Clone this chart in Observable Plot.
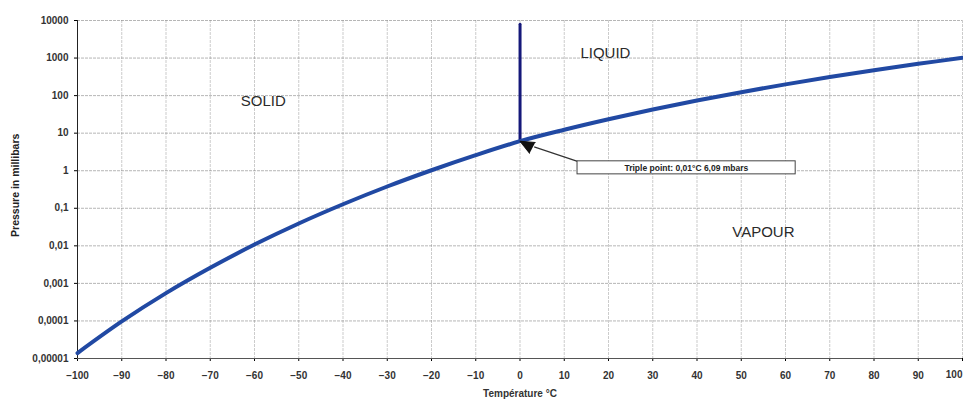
<!DOCTYPE html>
<html>
<head>
<meta charset="utf-8">
<script src="https://cdn.jsdelivr.net/npm/d3@7"></script>
<script src="https://cdn.jsdelivr.net/npm/@observablehq/plot@0.6"></script>
<style>
  html, body { margin: 0; padding: 0; background: #fff; }
  #chart { width: 963px; height: 400px; overflow: hidden; }
  svg { font-family: "Liberation Sans", Arial, sans-serif; }
</style>
</head>
<body>
<div id="chart"></div>
<script>
// Temperature (°C) along the sublimation curve (solid/vapour) and vaporisation curve (liquid/vapour)
const temps     = [-100, -90, -80, -70, -60, -50, -40, -30, -20, -10, 0, 10, 20, 30, 40, 50, 60, 70, 80, 90, 100];
// Vapour pressure in millibars
const pressures = [0.000014, 0.000097, 0.00055, 0.0026, 0.0108, 0.0394, 0.128, 0.38, 1.03, 2.6, 6.11, 12.3, 23.4, 42.5, 73.8, 123.5, 199.4, 311.8, 473.8, 701.5, 1013];
// Melting line (solid/liquid) from the triple point upward
const meltTemps     = [0.01, 0.01];
const meltPressures = [6.09, 8000];
// Axis ticks
const xTicks = [-100, -90, -80, -70, -60, -50, -40, -30, -20, -10, 0, 10, 20, 30, 40, 50, 60, 70, 80, 90, 100];
const yTicks = [0.00001, 0.0001, 0.001, 0.01, 0.1, 1, 10, 100, 1000, 10000];
const yTickLabels = ["0,00001", "0,0001", "0,001", "0,01", "0,1", "1", "10", "100", "1000", "10000"];
// Region labels
const regionNames = ["SOLID", "LIQUID", "VAPOUR"];
const regionTemps = [-58, 19.3, 55];
const regionPress = [70, 1320, 0.023];
// Triple point annotation
const tripleT = 0.01, tripleP = 6.09;
const tripleLabel = "Triple point: 0,01°C 6,09 mbars";

const curve = temps.map((t, i) => ({t, p: pressures[i]}));
const melt = meltTemps.map((t, i) => ({t, p: meltPressures[i]}));
const regions = regionNames.map((n, i) => ({n, t: regionTemps[i], p: regionPress[i]}));
const lastTick = xTicks[xTicks.length - 1];

const chart = Plot.plot({
  width: 963,
  height: 400,
  marginLeft: 77,
  marginRight: 1,
  marginTop: 20,
  marginBottom: 42,
  style: {fontFamily: "'Liberation Sans', Arial, sans-serif", background: "transparent"},
  x: {domain: [-100, 100], ticks: xTicks, label: null},
  y: {type: "log", domain: [0.00001, 10000], ticks: yTicks, label: null},
  marks: [
    Plot.gridX(xTicks, {stroke: "#9a9a9a", strokeOpacity: 0.5, strokeDasharray: "3,1"}),
    Plot.gridY(yTicks, {stroke: "#7a7a7a", strokeOpacity: 0.55, strokeDasharray: "3,1"}),
    Plot.axisX(xTicks, {tickSize: 3, text: null}),
    Plot.axisX(xTicks.slice(0, -1), {tickSize: 0, tickPadding: 13, fontSize: 10, fontWeight: "bold", fill: "#333",
      label: "Température °C", labelAnchor: "center", labelArrow: "none", labelOffset: 38}),
    Plot.text([lastTick], {x: (d) => d, frameAnchor: "bottom", dy: 16, textAnchor: "end", text: (d) => String(d),
      fontSize: 10, fontWeight: "bold", fill: "#333", lineAnchor: "middle"}),
    Plot.axisY({ticks: yTicks, tickSize: 3, tickPadding: 6, fontSize: 10, fontWeight: "bold", fill: "#333",
      tickFormat: (d) => yTickLabels[yTicks.indexOf(d)] ?? "", label: null}),
    Plot.text(["Pressure in millibars"], {x: -114, y: 0.41, rotate: -90, fontSize: 10.5, fontWeight: "bold", fill: "#222"}),
    Plot.ruleX([-100], {stroke: "#222", strokeWidth: 1}),
    Plot.ruleY([0.00001], {stroke: "#555", strokeWidth: 1}),
    Plot.line(melt, {x: "t", y: "p", stroke: "#15187a", strokeWidth: 3}),
    Plot.line(curve, {x: "t", y: "p", stroke: "#2149a3", strokeWidth: 4, curve: "catmull-rom"}),
    Plot.text(regions, {x: "t", y: "p", text: "n", fontSize: 15, fill: "#2a2a2a"}),
    Plot.link([{x1: 13, y1: 1.78, x2: 3.2, y2: 4.3}], {x1: "x1", y1: "y1", x2: "x2", y2: "y2", stroke: "#333", strokeWidth: 1.2}),
    Plot.vector([{t: tripleT, p: tripleP}], {x: "t", y: "p", anchor: "end", shape: "spike", length: 14, r: 6, rotate: -62,
      fill: "#111", stroke: "#111", strokeWidth: 1}),
    Plot.rect([{x1: 13, x2: 62.3, y1: 0.80, y2: 1.78}], {x1: "x1", x2: "x2", y1: "y1", y2: "y2", fill: "white", stroke: "#444", strokeWidth: 1}),
    Plot.text([tripleLabel], {x: 37.6, y: 1.19, fontSize: 8.5, fontWeight: "bold", fill: "#222"})
  ]
});
document.getElementById("chart").appendChild(chart);
</script>
</body>
</html>
